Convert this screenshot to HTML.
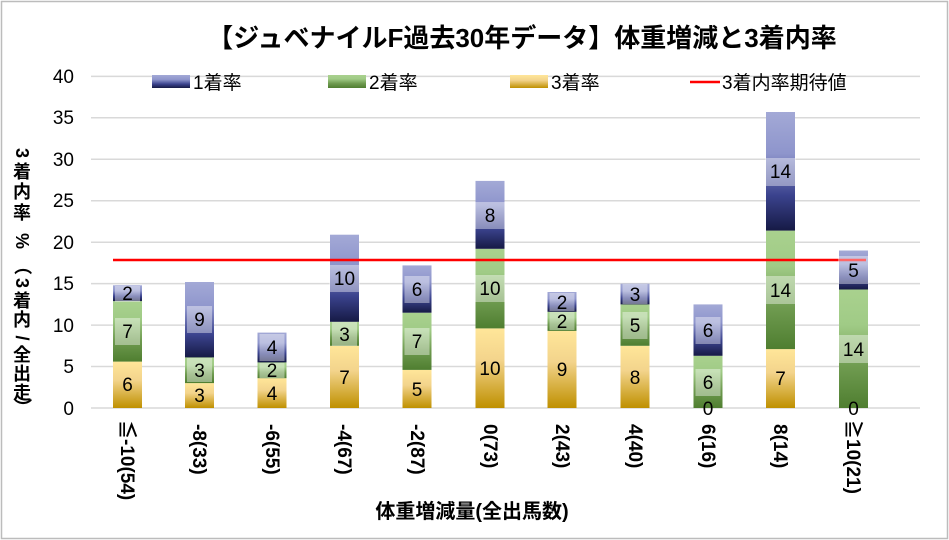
<!DOCTYPE html>
<html><head><meta charset="utf-8">
<style>
html,body{margin:0;padding:0;background:#fff;}
svg{display:block;font-family:"Liberation Sans","Noto Sans CJK JP",sans-serif;}
</style></head>
<body>
<svg width="949" height="540" viewBox="0 0 949 540" xmlns="http://www.w3.org/2000/svg">
<defs>
<linearGradient id="gb" x1="0" y1="0" x2="0" y2="1"><stop offset="0" stop-color="#a3a9d6"/><stop offset="0.35" stop-color="#8e95cc"/><stop offset="0.7" stop-color="#3b438e"/><stop offset="1" stop-color="#161a45"/></linearGradient>
<linearGradient id="gg" x1="0" y1="0" x2="0" y2="1"><stop offset="0" stop-color="#a9d18e"/><stop offset="0.3" stop-color="#a0cb86"/><stop offset="0.65" stop-color="#6f9b50"/><stop offset="1" stop-color="#4f7e30"/></linearGradient>
<linearGradient id="gy" x1="0" y1="0" x2="0" y2="1"><stop offset="0" stop-color="#ffe699"/><stop offset="0.4" stop-color="#f3d48c"/><stop offset="1" stop-color="#bf9000"/></linearGradient>
</defs>
<rect x="1.5" y="1.5" width="946" height="537" fill="#fff" stroke="#bcbcbc" stroke-width="1.5"/>
<text x="522" y="47" font-size="26" font-weight="bold" text-anchor="middle" fill="#000">【ジュベナイルF過去30年データ】体重増減と3着内率</text>
<g stroke="#d9d9d9" stroke-width="1.5">
<line x1="91" x2="920" y1="76.4" y2="76.4"/><line x1="91" x2="920" y1="117.8" y2="117.8"/><line x1="91" x2="920" y1="159.3" y2="159.3"/><line x1="91" x2="920" y1="200.7" y2="200.7"/><line x1="91" x2="920" y1="242.2" y2="242.2"/><line x1="91" x2="920" y1="283.6" y2="283.6"/><line x1="91" x2="920" y1="325.1" y2="325.1"/><line x1="91" x2="920" y1="366.5" y2="366.5"/><line x1="91" x2="920" y1="408" y2="408"/>
</g>
<g font-size="19" text-anchor="end" fill="#000">
<text x="74" y="83">40</text><text x="74" y="124">35</text><text x="74" y="166">30</text><text x="74" y="207">25</text><text x="74" y="249">20</text><text x="74" y="290">15</text><text x="74" y="332">10</text><text x="74" y="373">5</text><text x="74" y="415">0</text>
</g>
<g font-size="18" font-weight="bold" fill="#000" text-anchor="middle" dominant-baseline="central">
<text transform="translate(22,153) rotate(90)">3</text>
<text x="22" y="172">着</text>
<text x="22" y="192">内</text>
<text x="22" y="213">率</text>
<text transform="translate(22,241) rotate(90)">%</text>
<text transform="translate(22,266) rotate(90)">（</text>
<text transform="translate(22,283) rotate(90)">3</text>
<text x="22" y="301">着</text>
<text x="22" y="320">内</text>
<text transform="translate(22,338) rotate(90)">/</text>
<text x="22" y="355">全</text>
<text x="22" y="374">出</text>
<text x="22" y="393">走</text>
<text transform="translate(22,407) rotate(90)">）</text>
</g>
<rect x="152" y="75" width="38" height="13" fill="url(#gb)"/><text x="193" y="89" font-size="19">1着率</text>
<rect x="328" y="75" width="38" height="13" fill="url(#gg)"/><text x="369" y="89" font-size="19">2着率</text>
<rect x="510" y="75" width="38" height="13" fill="url(#gy)"/><text x="551" y="89" font-size="19">3着率</text>
<line x1="690" x2="720" y1="82" y2="82" stroke="#ff0000" stroke-width="2.5"/><text x="722" y="89" font-size="19">3着内率期待値</text>
<g>
<rect x="113" y="361.6" width="29" height="46.4" fill="url(#gy)"/><rect x="113" y="301.1" width="29" height="60.5" fill="url(#gg)"/><rect x="113" y="285.3" width="29" height="15.8" fill="url(#gb)"/>
<rect x="185" y="383.1" width="29" height="24.9" fill="url(#gy)"/><rect x="185" y="357.4" width="29" height="25.7" fill="url(#gg)"/><rect x="185" y="282" width="29" height="75.4" fill="url(#gb)"/>
<rect x="257.5" y="378.2" width="29" height="29.8" fill="url(#gy)"/><rect x="257.5" y="362.4" width="29" height="15.8" fill="url(#gg)"/><rect x="257.5" y="332.6" width="29" height="29.8" fill="url(#gb)"/>
<rect x="330" y="345.8" width="29" height="62.2" fill="url(#gy)"/><rect x="330" y="321.8" width="29" height="24" fill="url(#gg)"/><rect x="330" y="234.7" width="29" height="87.1" fill="url(#gb)"/>
<rect x="402.5" y="369.9" width="29" height="38.1" fill="url(#gy)"/><rect x="402.5" y="312.7" width="29" height="57.2" fill="url(#gg)"/><rect x="402.5" y="265.4" width="29" height="47.3" fill="url(#gb)"/>
<rect x="475.5" y="328.4" width="29" height="79.6" fill="url(#gy)"/><rect x="475.5" y="248.8" width="29" height="79.6" fill="url(#gg)"/><rect x="475.5" y="180.9" width="29" height="67.9" fill="url(#gb)"/>
<rect x="547.5" y="330.9" width="29" height="77.1" fill="url(#gy)"/><rect x="547.5" y="311.8" width="29" height="19.1" fill="url(#gg)"/><rect x="547.5" y="292" width="29" height="19.8" fill="url(#gb)"/>
<rect x="620.5" y="345.8" width="29" height="62.2" fill="url(#gy)"/><rect x="620.5" y="304.4" width="29" height="41.4" fill="url(#gg)"/><rect x="620.5" y="283.7" width="29" height="20.7" fill="url(#gb)"/>
<rect x="693.5" y="355.8" width="29" height="52.2" fill="url(#gg)"/><rect x="693.5" y="304.4" width="29" height="51.4" fill="url(#gb)"/>
<rect x="766" y="349.1" width="29" height="58.9" fill="url(#gy)"/><rect x="766" y="230.6" width="29" height="118.5" fill="url(#gg)"/><rect x="766" y="112" width="29" height="118.6" fill="url(#gb)"/>
<rect x="839" y="289.5" width="29" height="118.5" fill="url(#gg)"/><rect x="839" y="250.5" width="29" height="39" fill="url(#gb)"/>
</g>
<line x1="113" x2="866" y1="260" y2="260" stroke="#ff0000" stroke-width="2.5"/>
<g fill="#ffffff" fill-opacity="0.4">
<rect x="115" y="286" width="25" height="16"/><rect x="115" y="318" width="25" height="27"/>
<rect x="187" y="306" width="25" height="27"/><rect x="187" y="358" width="25" height="24"/>
<rect x="259.5" y="334" width="25" height="27"/><rect x="259.5" y="363" width="25" height="15"/>
<rect x="329" y="265" width="31" height="27"/><rect x="332" y="322" width="25" height="24"/>
<rect x="404.5" y="276" width="25" height="27"/><rect x="404.5" y="328" width="25" height="27"/>
<rect x="474" y="202" width="31" height="27"/><rect x="474" y="275" width="31" height="27"/>
<rect x="549.5" y="293" width="25" height="18"/><rect x="549.5" y="312" width="25" height="18"/>
<rect x="622.5" y="284" width="25" height="20"/><rect x="622.5" y="312" width="25" height="27"/>
<rect x="695.5" y="317" width="25" height="27"/><rect x="695.5" y="369" width="25" height="27"/>
<rect x="765" y="158" width="31" height="28"/><rect x="765" y="276" width="31" height="28"/>
<rect x="838" y="256" width="31" height="28"/><rect x="838" y="335" width="31" height="28"/>
</g>
<g font-size="19" text-anchor="middle" fill="#000">
<text x="127.5" y="391">6</text><text x="127.5" y="338">7</text><text x="127.5" y="300">2</text>
<text x="199.5" y="402">3</text><text x="199.5" y="377">3</text><text x="199.5" y="326">9</text>
<text x="272" y="400">4</text><text x="272" y="377">2</text><text x="272" y="354">4</text>
<text x="344.5" y="384">7</text><text x="344.5" y="341">3</text><text x="344.5" y="285">10</text>
<text x="417" y="396">5</text><text x="417" y="348">7</text><text x="417" y="296">6</text>
<text x="490" y="375">10</text><text x="490" y="295">10</text><text x="490" y="222">8</text>
<text x="562" y="376">9</text><text x="562" y="328">2</text><text x="562" y="309">2</text>
<text x="635" y="384">8</text><text x="635" y="332">5</text><text x="635" y="301">3</text>
<text x="708" y="415">0</text><text x="708" y="389">6</text><text x="708" y="337">6</text>
<text x="780.5" y="385">7</text><text x="780.5" y="297">14</text><text x="780.5" y="178">14</text>
<text x="853.5" y="415">0</text><text x="853.5" y="356">14</text><text x="853.5" y="277">5</text>
</g>
<g font-size="19" font-weight="bold" fill="#000">
<text transform="translate(121,420) rotate(90)">≦-10(54)</text>
<text transform="translate(193,424) rotate(90)">-8(33)</text>
<text transform="translate(266,424) rotate(90)">-6(55)</text>
<text transform="translate(338,424) rotate(90)">-4(67)</text>
<text transform="translate(411,424) rotate(90)">-2(87)</text>
<text transform="translate(484,424) rotate(90)">0(73)</text>
<text transform="translate(556,424) rotate(90)">2(43)</text>
<text transform="translate(629,424) rotate(90)">4(40)</text>
<text transform="translate(702,424) rotate(90)">6(16)</text>
<text transform="translate(774,424) rotate(90)">8(14)</text>
<text transform="translate(847,420) rotate(90)">≧10(21)</text>
</g>
<text x="472" y="518" font-size="20" font-weight="bold" text-anchor="middle">体重増減量(全出馬数)</text>
</svg>
</body></html>
